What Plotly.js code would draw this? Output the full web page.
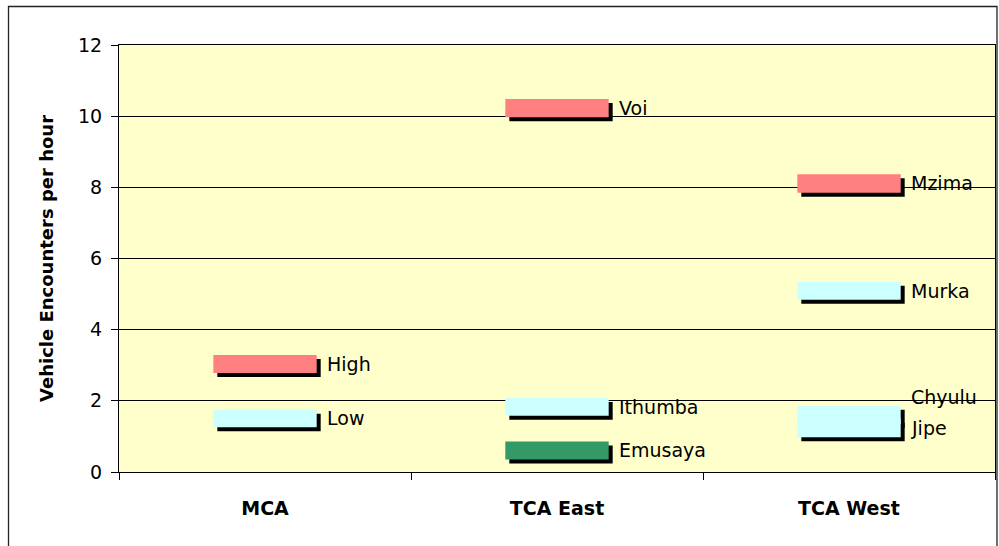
<!DOCTYPE html>
<html>
<head>
<meta charset="utf-8">
<script src="https://cdn.plot.ly/plotly-3.0.1.min.js"></script>
<style>html,body{margin:0;padding:0;background:#fff;}#chart{width:999px;height:546px;}</style>
</head>
<body>
<div id="chart"></div>
<script>
// ---- data ----
var categories = ['MCA', 'TCA East', 'TCA West'];
var siteNames = ['High', 'Low', 'Voi', 'Ithumba', 'Emusaya', 'Mzima', 'Murka', 'Chyulu', 'Jipe'];
var siteCategory = ['MCA', 'MCA', 'TCA East', 'TCA East', 'TCA East', 'TCA West', 'TCA West', 'TCA West', 'TCA West'];
var lowValues  = [2.78, 1.26, 9.97, 1.58, 0.35, 7.85, 4.84, 1.35, 0.98];
var highValues = [3.29, 1.75, 10.48, 2.08, 0.86, 8.37, 5.35, 1.86, 1.50];
var siteLevel  = ['high', 'low', 'high', 'low', 'lowest', 'high', 'low', 'low', 'low'];
var yTickValues = [0, 2, 4, 6, 8, 10, 12];

// ---- styles ----
var levelColors = { high: '#FF8080', low: '#CCFFFF', lowest: '#339966' };
var labelYShift = { Chyulu: 18 };
var FONT = 'DejaVu Sans, Liberation Sans, Arial, sans-serif';
var W = 999, H = 546;
var margin = { l: 119, r: 4, t: 45, b: 74 };
var plotW = W - margin.l - margin.r;
var plotH = H - margin.t - margin.b;
var yMax = 12;
var barFrac = 0.354;
var shadowPx = 4;
var catPx = plotW / categories.length;
var dxUnits = shadowPx / catPx;
var dyUnits = shadowPx * yMax / plotH;

var spans = highValues.map(function (h, i) { return h - lowValues[i]; });
var colors = siteLevel.map(function (l) { return levelColors[l]; });

var shadowTrace = {
  type: 'bar',
  x: siteCategory,
  y: spans,
  base: lowValues.map(function (v) { return v - dyUnits; }),
  width: barFrac,
  offset: -barFrac / 2 + dxUnits,
  marker: { color: '#000000', line: { width: 0 } },
  hoverinfo: 'skip',
  showlegend: false
};
var barTrace = {
  type: 'bar',
  x: siteCategory,
  y: spans,
  base: lowValues,
  width: barFrac,
  offset: -barFrac / 2,
  marker: { color: colors, line: { width: 0 } },
  text: siteNames,
  textposition: 'none',
  hoverinfo: 'text',
  showlegend: false
};

var annotations = siteNames.map(function (name, i) {
  return {
    x: siteCategory[i],
    y: (lowValues[i] + highValues[i]) / 2,
    xref: 'x', yref: 'y',
    text: name,
    showarrow: false,
    xanchor: 'left',
    yanchor: 'middle',
    xshift: barFrac * catPx / 2 + 8,
    yshift: labelYShift[name] || 0,
    font: { family: FONT, size: 19, color: '#000' }
  };
});

var layout = {
  width: W, height: H,
  margin: margin,
  paper_bgcolor: '#FFFFFF',
  plot_bgcolor: '#FFFFCC',
  barmode: 'overlay',
  showlegend: false,
  font: { family: FONT, size: 19, color: '#000' },
  xaxis: {
    type: 'category',
    categoryorder: 'array',
    categoryarray: categories,
    range: [-0.5, categories.length - 0.5],
    tickson: 'boundaries',
    ticks: 'outside', ticklen: 7, tickcolor: '#000', tickwidth: 1,
    showgrid: false,
    showline: true, mirror: true, linecolor: '#000', linewidth: 1,
    tickfont: { family: FONT, size: 19, weight: 'bold', color: '#000' },
    ticklabelstandoff: 19,
    fixedrange: true
  },
  yaxis: {
    range: [0, yMax],
    tickvals: yTickValues,
    ticktext: yTickValues.map(String),
    ticks: 'outside', ticklen: 7, tickcolor: '#000', tickwidth: 1,
    showgrid: true, gridcolor: '#000', gridwidth: 1,
    zeroline: false,
    showline: true, mirror: true, linecolor: '#000', linewidth: 1,
    tickfont: { family: FONT, size: 19, color: '#000' },
    ticklabelstandoff: 5,
    title: { text: 'Vehicle Encounters per hour', font: { family: FONT, size: 18, weight: 'bold', color: '#000' }, standoff: 19 },
    fixedrange: true
  },
  annotations: annotations,
  shapes: [{
    type: 'rect', xref: 'paper', yref: 'paper', layer: 'below',
    x0: (8.5 - margin.l) / plotW, x1: (997 - margin.l) / plotW,
    y0: -(H + 5 - margin.t - plotH) / plotH, y1: (H - 6.5 - margin.b) / plotH,
    line: { color: '#222', width: 1.3 }, fillcolor: 'rgba(0,0,0,0)'
  }]
};

Plotly.newPlot('chart', [shadowTrace, barTrace], layout, { staticPlot: true, displayModeBar: false });
</script>
</body>
</html>
